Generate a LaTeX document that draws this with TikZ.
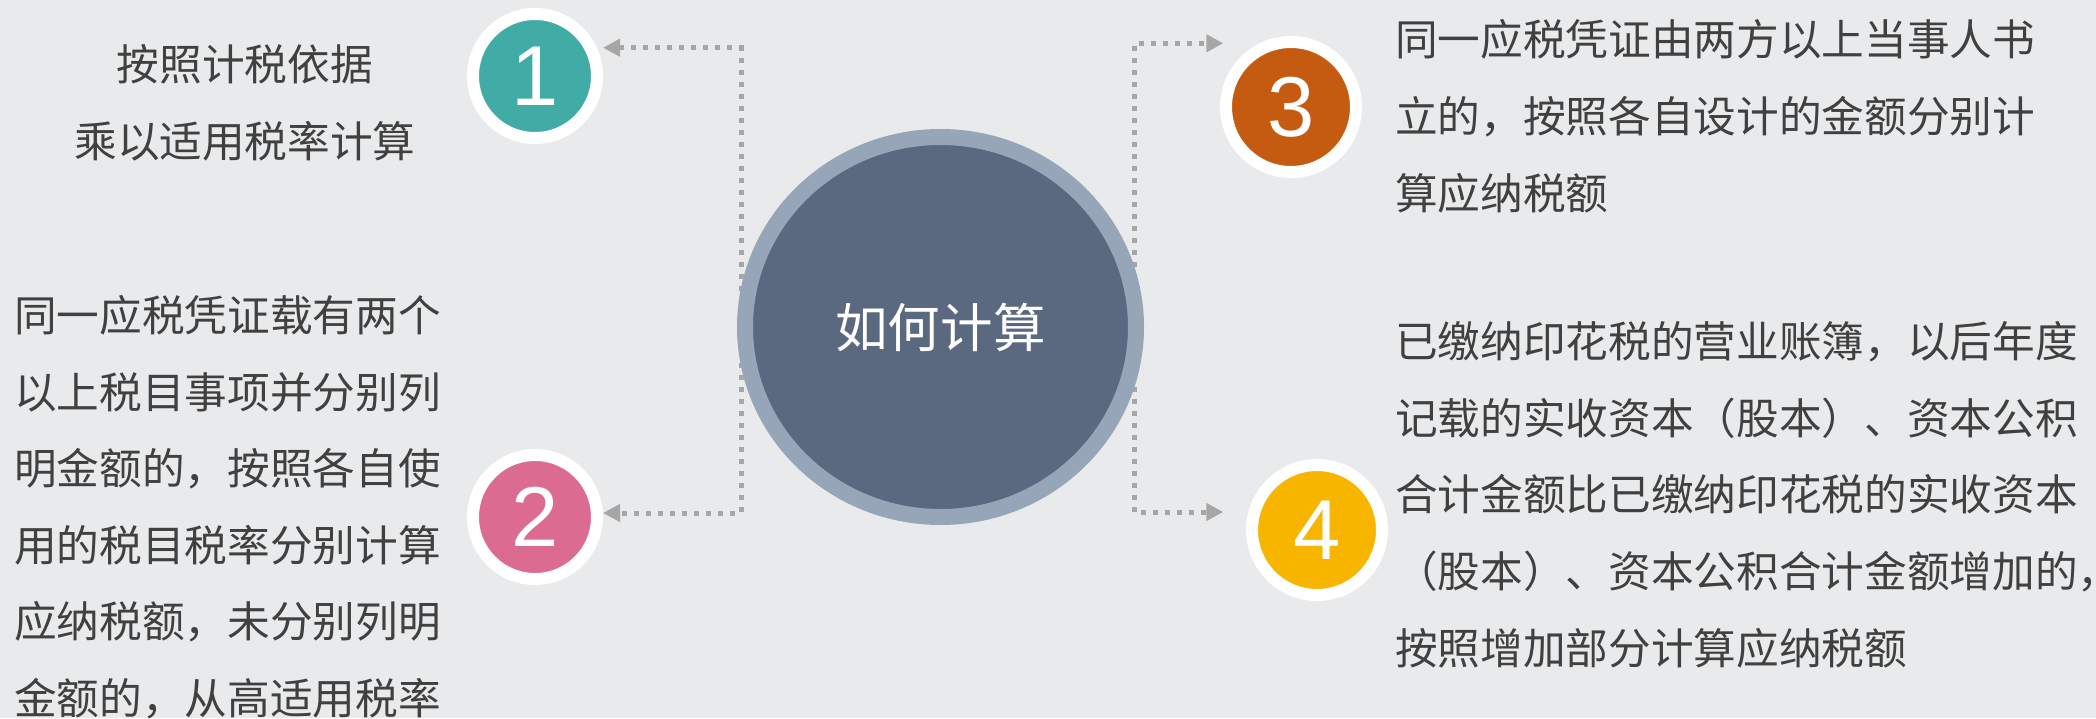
\documentclass[tikz,border=0pt]{standalone}
\usepackage{fontspec}
\usetikzlibrary{arrows.meta,shapes.geometric,backgrounds}
\newfontfamily\cjk{Noto Sans CJK SC}
\newfontfamily\digitfont{Liberation Sans}
\definecolor{bgcol}{HTML}{E9EAEC}
\definecolor{textgray}{HTML}{404040}
\definecolor{linegray}{HTML}{A6A6A6}
\definecolor{cteal}{HTML}{41ABA6}
\definecolor{cpink}{HTML}{DB6B91}
\definecolor{corange}{HTML}{C55A11}
\definecolor{cyellow}{HTML}{F8B500}
\definecolor{hubring}{HTML}{97A5B8}
\definecolor{hubfill}{HTML}{5A6880}
\tikzset{
  numc/.style={circle, draw=white, line width=9pt, inner sep=0pt, text=white,
    font=\digitfont\fontsize{63.75pt}{63.75pt}\selectfont},
  conn/.style={draw=linegray, line width=3.75pt, dash pattern=on 3.75pt off 5.25pt,
    -{Triangle[length=12.75pt,width=12.75pt]}},
  body/.style={inner sep=0pt, text=textgray,
    font=\cjk\fontsize{32pt}{57.4pt}\selectfont},
}
\begin{document}
\begin{tikzpicture}[x=0.75pt,y=-0.75pt]
\useasboundingbox (0,0) rectangle (2096,718);
\begin{scope}[on background layer]
  \fill[bgcol] (0,0) rectangle (2096,718);
\end{scope}

% hub
\node[ellipse, draw=hubring, fill=hubfill, line width=12pt,
  minimum width=293.25pt, minimum height=285pt, inner sep=0pt, text=white,
  font=\cjk\fontsize{39.4pt}{39.4pt}\selectfont] (hub) at (940.5,327) {如何计算};

% numbered circles
\node[numc, fill=cteal, minimum size=93pt] (n1) at (535,76) {1};
\node[numc, fill=cpink, minimum size=93pt] (n2) at (535,517) {2};
\node[numc, fill=corange, minimum size=97.5pt] (n3) at (1291,107) {3};
\node[numc, fill=cyellow, minimum size=97.5pt] (n4) at (1317,530) {4};

% connector corners and tips
\coordinate (L1) at (741,47.7);
\coordinate (L2) at (741,513);
\coordinate (R1) at (1134.3,43.3);
\coordinate (R2) at (1134.3,512);
\coordinate (e1) at (603,47.7);
\coordinate (e2) at (603,513);
\coordinate (e3) at (1223.3,43.3);
\coordinate (e4) at (1223.3,512);

\begin{scope}[on background layer]
  \draw[conn] (hub.center -| L1) -- (L1) -- (e1);
  \draw[conn] (hub.center -| L2) -- (L2) -- (e2);
  \draw[conn] (hub.center -| R1) -- (R1) -- (e3);
  \draw[conn] (hub.center -| R2) -- (R2) -- (e4);
\end{scope}

% texts (base anchor = baseline of the last line)
\node[body, align=center, anchor=base] (t1) at (245,157.5) {按照计税依据\\乘以适用税率计算};
\node[body, align=left, anchor=base west] (t2) at (14,714.5) {同一应税凭证载有两个\\以上税目事项并分别列\\明金额的，按照各自使\\用的税目税率分别计算\\应纳税额，未分别列明\\金额的，从高适用税率};
\node[body, align=left, anchor=base west] (t3) at (1395,209) {同一应税凭证由两方以上当事人书\\立的，按照各自设计的金额分别计\\算应纳税额};
\node[body, align=left, anchor=base west] (t4) at (1395,664) {已缴纳印花税的营业账簿，以后年度\\记载的实收资本（股本）、资本公积\\合计金额比已缴纳印花税的实收资本\\（股本）、资本公积合计金额增加的，\\按照增加部分计算应纳税额};
\end{tikzpicture}
\end{document}
